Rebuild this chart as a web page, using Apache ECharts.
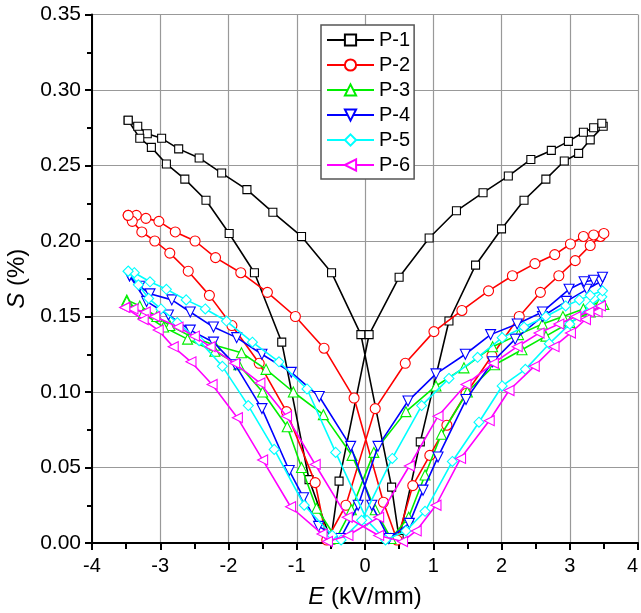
<!DOCTYPE html>
<html>
<head>
<meta charset="utf-8">
<script src="https://cdn.jsdelivr.net/npm/echarts@6/dist/echarts.min.js"></script>
<style>
html,body{margin:0;padding:0;background:#fff;}
#chart{width:641px;height:613px;}
</style>
</head>
<body>
<div id="chart"></div>
<script>
// ---- Data: E (kV/mm), S (%) pairs, in loop order ----
const seriesNames = ['P-1','P-2','P-3','P-4','P-5','P-6'];
const xTicks = [-4,-3,-2,-1,0,1,2,3,4];
const yTicks = [0.00,0.05,0.10,0.15,0.20,0.25,0.30,0.35];

const P1 = [
[-3.47,0.280],[-3.33,0.276],[-3.19,0.271],[-2.98,0.268],[-2.73,0.261],[-2.43,0.255],[-2.10,0.245],[-1.73,0.234],[-1.35,0.219],[-0.93,0.203],[-0.49,0.179],[-0.06,0.138],[0.39,0.037],[0.50,0.003],
[0.81,0.067],[1.23,0.147],[1.62,0.184],[2.00,0.208],[2.33,0.227],[2.65,0.241],[2.92,0.253],[3.13,0.258],[3.30,0.267],[3.49,0.276],
[3.47,0.278],[3.35,0.275],[3.20,0.272],[2.98,0.266],[2.73,0.260],[2.43,0.254],[2.10,0.243],[1.73,0.232],[1.34,0.220],[0.94,0.202],[0.50,0.176],[0.06,0.138],[-0.38,0.041],[-0.50,0.002],
[-0.82,0.042],[-1.22,0.133],[-1.62,0.179],[-1.99,0.205],[-2.33,0.227],[-2.64,0.241],[-2.91,0.251],[-3.13,0.262],[-3.30,0.268],[-3.47,0.280]
];
const P2 = [
[-3.47,0.217],[-3.35,0.217],[-3.21,0.215],[-3.02,0.213],[-2.78,0.206],[-2.49,0.200],[-2.19,0.189],[-1.82,0.179],[-1.43,0.166],[-1.02,0.150],[-0.60,0.129],[-0.16,0.096],[0.27,0.027],[0.47,0.002],
[0.70,0.038],[0.95,0.058],[1.20,0.078],[1.48,0.099],[1.86,0.124],[2.26,0.150],[2.57,0.166],[2.84,0.177],[3.08,0.187],[3.30,0.197],[3.45,0.203],
[3.50,0.205],[3.35,0.204],[3.20,0.203],[3.01,0.198],[2.78,0.191],[2.49,0.185],[2.16,0.177],[1.81,0.167],[1.42,0.154],[1.01,0.140],[0.59,0.119],[0.15,0.089],[-0.28,0.025],[-0.56,0.002],
[-0.73,0.040],[-1.15,0.087],[-1.55,0.119],[-1.95,0.144],[-2.28,0.164],[-2.59,0.180],[-2.86,0.192],[-3.08,0.200],[-3.27,0.206],[-3.41,0.213],[-3.47,0.217]
];
const P3 = [
[-3.49,0.161],[-3.30,0.157],[-3.05,0.150],[-2.86,0.144],[-2.56,0.137],[-2.20,0.131],[-1.81,0.126],[-1.45,0.115],[-1.05,0.100],[-0.61,0.085],[-0.19,0.058],[0.15,0.022],[0.38,0.003],
[0.64,0.017],[0.88,0.045],[1.12,0.072],[1.50,0.100],[1.90,0.118],[2.30,0.128],[2.65,0.137],[3.00,0.146],[3.30,0.153],[3.50,0.158],
[3.45,0.160],[3.20,0.155],[2.90,0.150],[2.60,0.145],[2.25,0.138],[1.87,0.130],[1.45,0.116],[1.04,0.104],[0.60,0.087],[0.13,0.060],[-0.20,0.022],[-0.42,0.003],
[-0.71,0.023],[-0.93,0.050],[-1.14,0.077],[-1.50,0.100],[-1.85,0.118],[-2.20,0.127],[-2.60,0.135],[-2.95,0.143],[-3.25,0.152],[-3.49,0.160]
];
const P4 = [
[-3.45,0.177],[-3.30,0.170],[-3.15,0.165],[-2.83,0.161],[-2.56,0.153],[-2.22,0.143],[-1.88,0.136],[-1.51,0.125],[-1.08,0.113],[-0.67,0.097],[-0.21,0.064],[0.10,0.025],[0.35,0.003],
[0.65,0.013],[0.85,0.035],[1.07,0.057],[1.48,0.095],[1.87,0.120],[2.20,0.135],[2.60,0.150],[2.95,0.160],[3.25,0.168],[3.45,0.173],
[3.48,0.176],[3.35,0.174],[3.21,0.173],[2.99,0.168],[2.60,0.153],[2.23,0.145],[1.84,0.138],[1.47,0.125],[1.04,0.112],[0.63,0.094],[0.19,0.064],[-0.10,0.025],[-0.36,0.003],
[-0.68,0.011],[-0.90,0.030],[-1.11,0.048],[-1.51,0.089],[-1.90,0.118],[-2.22,0.133],[-2.56,0.141],[-2.88,0.151],[-3.20,0.160],[-3.45,0.177]
];
const P5 = [
[-3.47,0.180],[-3.38,0.179],[-3.15,0.173],[-2.91,0.168],[-2.62,0.161],[-2.34,0.155],[-2.03,0.147],[-1.65,0.133],[-1.26,0.120],[-0.85,0.102],[-0.43,0.060],[0.03,0.015],[0.30,0.002],
[0.60,0.008],[0.88,0.021],[1.28,0.054],[1.67,0.080],[2.01,0.104],[2.35,0.115],[2.70,0.132],[3.00,0.145],[3.30,0.157],[3.47,0.163],
[3.48,0.167],[3.30,0.164],[3.14,0.161],[2.94,0.157],[2.65,0.150],[2.33,0.143],[2.01,0.136],[1.65,0.123],[1.23,0.109],[0.83,0.091],[0.40,0.056],[-0.05,0.015],[-0.35,0.002],
[-0.48,0.005],[-0.89,0.025],[-1.33,0.062],[-1.71,0.091],[-2.09,0.117],[-2.43,0.134],[-2.75,0.146],[-2.99,0.155],[-3.17,0.162],[-3.32,0.171],[-3.47,0.180]
];
const P6 = [
[-3.52,0.156],[-3.40,0.155],[-3.22,0.153],[-3.08,0.150],[-2.74,0.143],[-2.50,0.137],[-2.27,0.130],[-1.91,0.119],[-1.54,0.106],[-1.15,0.084],[-0.73,0.052],[-0.26,0.017],[0.20,0.005],[0.55,0.001],
[0.75,0.008],[1.04,0.025],[1.40,0.056],[1.82,0.081],[2.11,0.101],[2.48,0.117],[2.77,0.130],[3.01,0.139],[3.23,0.148],[3.40,0.153],
[3.45,0.157],[3.28,0.153],[3.09,0.150],[2.84,0.145],[2.55,0.139],[2.23,0.130],[1.88,0.119],[1.48,0.105],[1.07,0.084],[0.65,0.051],[0.20,0.017],[-0.25,0.005],[-0.55,0.001],
[-0.63,0.006],[-1.09,0.024],[-1.50,0.055],[-1.87,0.083],[-2.24,0.105],[-2.55,0.120],[-2.81,0.130],[-3.03,0.141],[-3.25,0.148],[-3.52,0.156]
];

const allData = [P1,P2,P3,P4,P5,P6];
const colors = ['#000000','#ff0000','#00ee00','#0000ff','#00ffff','#ff00ff'];
const symbols = ['rect','circle','triangle','triangle','diamond','triangle'];
const rotates = [0,0,0,180,0,90];
const sizes = [8,10,10,10,10,10];

const FONT = '"Liberation Sans", Arial, sans-serif';
const chart = echarts.init(document.getElementById('chart'), null, {renderer:'canvas'});

const series = allData.map((d,i)=>({
  name: seriesNames[i],
  type: 'line',
  data: d,
  symbol: symbols[i],
  symbolRotate: rotates[i],
  symbolSize: sizes[i],
  showAllSymbol: true,
  lineStyle: {color: colors[i], width: 1.6},
  itemStyle: {color: '#ffffff', borderColor: colors[i], borderWidth: 1.1},
  emphasis: {disabled: true},
  z: 2 + i
}));

const option = {
  animation: false,
  backgroundColor: '#ffffff',
  grid: {left: 92, right: 3, top: 14.5, bottom: 70, containLabel: false, outerBoundsMode: 'none'},
  legend: {
    orient: 'vertical',
    left: 321, top: 25,
    padding: [5,4,4,5],
    itemWidth: 47, itemHeight: 14, itemGap: 5,
    backgroundColor: '#ffffff',
    borderColor: '#555555', borderWidth: 1.5, borderRadius: 0,
    textStyle: {fontSize: 20, fontFamily: FONT, color: '#000'},
    data: seriesNames
  },
  xAxis: {
    type: 'value', min: -4, max: 4, interval: 1,
    name: '{it|E} (kV/mm)', nameLocation: 'middle', nameGap: 42,
    nameTextStyle: {fontSize: 24, fontFamily: FONT, color: '#000',
      rich: {it: {fontStyle: 'italic', fontSize: 24, fontFamily: FONT, color:'#000'}}},
    axisLine: {onZero: false, lineStyle: {color: '#000', width: 2}},
    axisTick: {inside: false, length: 7, lineStyle: {color: '#000', width: 2}},
    minorTick: {show: true, splitNumber: 2, length: 6, lineStyle: {color: '#000', width: 2}},
    axisLabel: {fontSize: 20, fontFamily: FONT, color: '#000', margin: 13, alignMaxLabel: 'right',
      formatter: v => xTicks.includes(v) ? String(v) : ''},
    splitLine: {show: true, lineStyle: {color: '#999999', width: 1.2}}
  },
  yAxis: {
    type: 'value', min: 0, max: 0.35, interval: 0.05,
    name: '{it|S} (%)', nameLocation: 'middle', nameGap: 47, nameRotate: 90,
    nameTextStyle: {fontSize: 24, fontFamily: FONT, color: '#000',
      rich: {it: {fontStyle: 'italic', fontSize: 24, fontFamily: FONT, color:'#000'}}},
    axisLine: {onZero: false, lineStyle: {color: '#000', width: 2}},
    axisTick: {inside: false, length: 7, lineStyle: {color: '#000', width: 2}},
    minorTick: {show: true, splitNumber: 2, length: 5, lineStyle: {color: '#000', width: 2}},
    axisLabel: {fontSize: 21, fontFamily: FONT, color: '#000', margin: 11,
      formatter: v => v.toFixed(2)},
    splitLine: {show: true, lineStyle: {color: '#999999', width: 1.2}}
  },
  series: series
};
chart.setOption(option);
</script>
</body>
</html>
